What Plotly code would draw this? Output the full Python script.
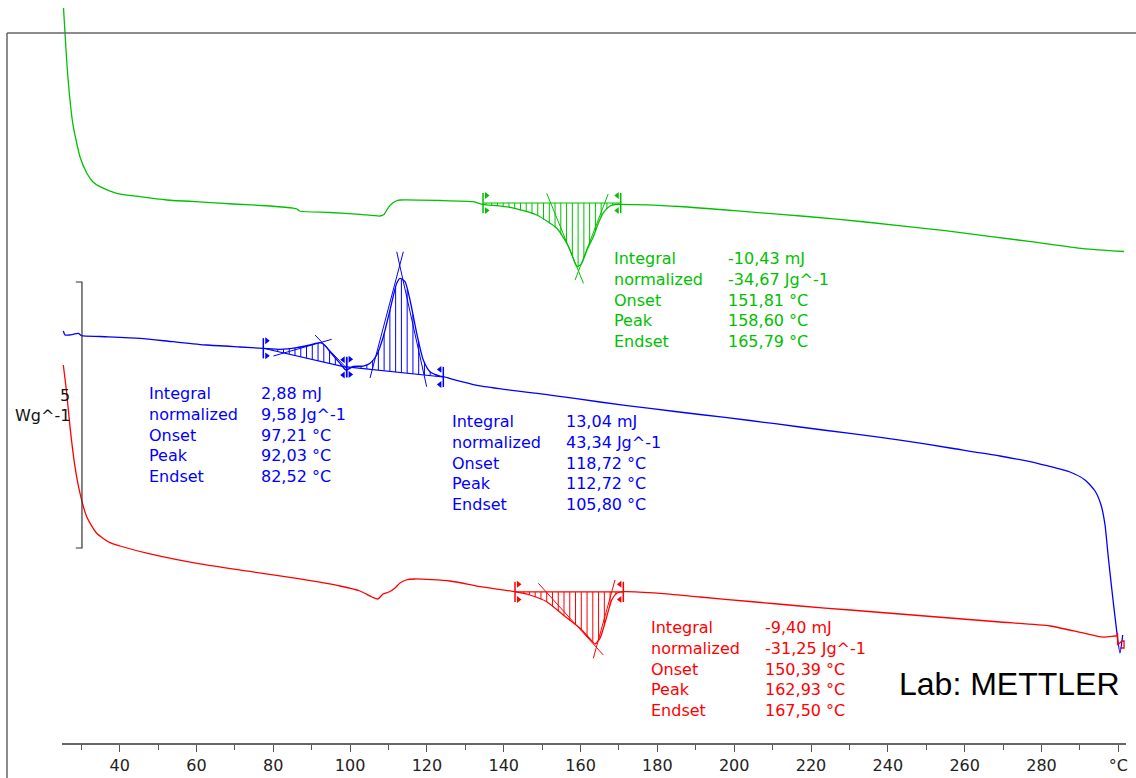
import numpy as np
import plotly.graph_objects as go

# ---------------- data (temperature in °C, heat flow in W/g, curves offset) -------------
green_T = [25.39, 25.78, 26.30, 27.08, 27.86, 28.83, 29.69, 31.43, 33.07, 34.89, 39.24, 45.31,
           52.26, 62.67, 69.52, 79.15, 85.14, 86.18, 86.83, 94.77, 102.58, 107.79, 108.83,
           109.87, 110.92, 111.96, 113.0, 123.41, 132.0, 133.31, 134.61, 141.64, 148.59,
           153.79, 156.40, 157.78, 158.56, 159.16, 160.30, 161.68, 163.32, 164.55, 165.85,
           167.67, 168.97, 170.46, 185.89, 205.42, 218.96, 234.19, 254.89, 277.28, 290.82,
           301.49]
green_HF = [13.816, 13.346, 12.744, 12.086, 11.617, 11.278, 11.015, 10.714, 10.545, 10.457,
            10.333, 10.269, 10.207, 10.164, 10.132, 10.094, 10.056, 10.038, 10.000, 9.972,
            9.938, 9.906, 9.934, 10.056, 10.141, 10.188, 10.207, 10.197, 10.175, 10.150,
            10.126, 10.069, 9.925, 9.675, 9.393, 9.173, 9.017, 8.953, 9.017, 9.267, 9.517,
            9.756, 9.962, 10.094, 10.122, 10.126, 10.085, 9.974, 9.897, 9.793, 9.630, 9.423,
            9.293, 9.239]

blue_T = [25.34, 25.78, 26.82, 27.94, 29.24, 30.13, 34.89, 45.31, 53.90, 62.67, 71.34, 77.41,
          81.76, 86.11, 89.57, 92.17, 93.47, 94.77, 97.38, 98.94, 100.84, 103.44, 105.19,
          106.93, 108.65, 110.39, 112.14, 113.0, 114.30, 115.60, 117.35, 119.06, 120.81,
          123.41, 124.27, 133.83, 152.05, 165.07, 178.09, 191.10, 204.12, 217.14, 230.16,
          243.17, 256.19, 269.21, 279.62, 287.43, 291.33, 293.94, 295.50, 296.54, 297.33,
          298.33, 299.39, 300.43, 301.14]
blue_HF = [7.744, 7.669, 7.669, 7.682, 7.701, 7.656, 7.641, 7.607, 7.543, 7.481, 7.444, 7.419,
           7.400, 7.431, 7.481, 7.524, 7.472, 7.355, 7.137, 7.011, 7.077, 7.086, 7.137, 7.293,
           7.637, 8.139, 8.641, 8.735, 8.671, 8.327, 7.701, 7.199, 6.979, 6.898, 6.885, 6.711,
           6.541, 6.410, 6.288, 6.175, 6.062, 5.940, 5.818, 5.695, 5.545, 5.395, 5.244, 5.094,
           4.944, 4.737, 4.474, 4.098, 3.534, 2.876, 2.218, 1.692, 2.030]

red_T = [25.34, 26.22, 27.08, 28.38, 29.69, 31.43, 34.03, 37.50, 40.10, 47.91, 60.93, 73.95,
         86.96, 97.38, 102.58, 105.71, 107.27, 108.57, 110.13, 111.70, 113.0, 114.56, 116.91,
         126.02, 133.83, 142.94, 146.81, 151.19, 155.51, 159.86, 162.46, 163.77, 165.07,
         166.81, 168.11, 169.41, 171.13, 180.69, 191.10, 204.12, 217.14, 230.16, 243.17,
         256.19, 269.21, 282.23, 290.82, 296.03, 299.15, 299.67]
red_HF = [7.105, 6.579, 5.946, 5.194, 4.694, 4.254, 3.942, 3.765, 3.703, 3.553, 3.365, 3.224,
          3.083, 2.951, 2.857, 2.744, 2.707, 2.801, 2.838, 2.914, 3.008, 3.064, 3.083, 3.045,
          2.938, 2.844, 2.782, 2.656, 2.406, 2.156, 1.955, 1.861, 1.968, 2.374, 2.688, 2.814,
          2.844, 2.814, 2.744, 2.660, 2.575, 2.500, 2.425, 2.350, 2.274, 2.199, 2.068, 1.992,
          2.011, 2.011]
red_end_T = [299.67, 299.80, 299.80, 300.97, 301.49, 301.49, 300.43]
red_end_HF = [2.011, 2.068, 1.842, 1.917, 1.917, 1.786, 1.786]

# integration limits and baselines
green_limits_T = [134.61, 170.46]
green_baseline_HF = [10.15, 10.15]
blue1_limits_T = [77.41, 99.11]
blue1_baseline_HF = [7.42, 7.06]
blue2_limits_T = [99.11, 124.27]
blue2_baseline_HF = [7.07, 6.88]
red_limits_T = [142.94, 171.13]
red_baseline_HF = [2.84, 2.84]

# tangent construction lines (pairs of points)
green_tangents_T = [[151.2, 160.77], [167.2, 158.56]]
green_tangents_HF = [[10.33, 8.64], [10.32, 8.70]]
blue1_tangents_T = [[80.01, 95.22], [90.87, 99.12]]
blue1_tangents_HF = [[7.274, 7.588], [7.669, 7.043]]
blue2_tangents_T = [[105.19, 113.86], [112.14, 119.94]]
blue2_tangents_HF = [[6.861, 9.235], [9.235, 6.697]]
red_tangents_T = [[149.01, 165.93], [168.97, 163.32]]
red_tangents_HF = [[3.002, 1.654], [3.064, 1.592]]

# evaluation texts
result_labels = ["Integral", "normalized", "Onset", "Peak", "Endset"]
green_results = ["-10,43 mJ", "-34,67 Jg^-1", "151,81 °C", "158,60 °C", "165,79 °C"]
blue1_results = ["2,88 mJ", "9,58 Jg^-1", "97,21 °C", "92,03 °C", "82,52 °C"]
blue2_results = ["13,04 mJ", "43,34 Jg^-1", "118,72 °C", "112,72 °C", "105,80 °C"]
red_results = ["-9,40 mJ", "-31,25 Jg^-1", "150,39 °C", "162,93 °C", "167,50 °C"]

# scale bar
scale_bar_value = 5
scale_bar_unit = "Wg^-1"
scale_bar_bottom_HF = 3.665

x_tick_vals = [40, 60, 80, 100, 120, 140, 160, 180, 200, 220, 240, 260, 280, 300]
x_tick_text = ["40", "60", "80", "100", "120", "140", "160", "180", "200", "220", "240",
               "260", "280", "°C"]
x_minor_vals = [30, 50, 70, 90, 110, 130, 150, 170, 190, 210, 230, 250, 270, 290]

# ---------------- figure -------------
GREEN = "#00c000"
BLUE = "#0000ff"
RED = "#ff0000"
FONT = "DejaVu Sans"

fig = go.Figure()


def add_curve(T, HF, color, shape="spline"):
    fig.add_trace(go.Scatter(x=T, y=HF, mode="lines",
                             line=dict(color=color, width=1.3, shape=shape, smoothing=0.6),
                             hoverinfo="skip", showlegend=False))


def add_integration(curve_T, curve_HF, limits, base, tangents_T, tangents_HF, color):
    # baseline
    fig.add_trace(go.Scatter(x=limits, y=base, mode="lines",
                             line=dict(color=color, width=1.1),
                             hoverinfo="skip", showlegend=False))
    # hatching
    ts = np.arange(limits[0] + 0.75, limits[1], 1.5)
    cy = np.interp(ts, curve_T, curve_HF)
    by = np.interp(ts, limits, base)
    hx, hy = [], []
    for t, a, b in zip(ts, cy, by):
        hx += [t, t, None]
        hy += [b, a, None]
    fig.add_trace(go.Scatter(x=hx, y=hy, mode="lines",
                             line=dict(color=color, width=1),
                             hoverinfo="skip", showlegend=False))
    # tangents
    for tx, ty in zip(tangents_T, tangents_HF):
        fig.add_trace(go.Scatter(x=tx, y=ty, mode="lines",
                                 line=dict(color=color, width=1),
                                 hoverinfo="skip", showlegend=False))
    # limit markers
    half = 0.19
    for i, (t, b) in enumerate(zip(limits, base)):
        fig.add_trace(go.Scatter(x=[t, t], y=[b - half, b + half], mode="lines",
                                 line=dict(color=color, width=1.5),
                                 hoverinfo="skip", showlegend=False))
        sym = "triangle-right" if i == 0 else "triangle-left"
        off = 0.9 if i == 0 else -0.9
        fig.add_trace(go.Scatter(x=[t + off, t + off], y=[b - half * 0.75, b + half * 0.75],
                                 mode="markers",
                                 marker=dict(symbol=sym, size=6, color=color),
                                 hoverinfo="skip", showlegend=False))


add_curve(green_T, green_HF, GREEN)
add_curve(blue_T, blue_HF, BLUE)
add_curve(red_T, red_HF, RED)
add_curve(red_end_T, red_end_HF, RED, shape="linear")

add_integration(green_T, green_HF, green_limits_T, green_baseline_HF,
                green_tangents_T, green_tangents_HF, GREEN)
add_integration(blue_T, blue_HF, blue1_limits_T, blue1_baseline_HF,
                blue1_tangents_T, blue1_tangents_HF, BLUE)
add_integration(blue_T, blue_HF, blue2_limits_T, blue2_baseline_HF,
                blue2_tangents_T, blue2_tangents_HF, BLUE)
add_integration(red_T, red_HF, red_limits_T, red_baseline_HF,
                red_tangents_T, red_tangents_HF, RED)

# scale bar
sb_top = scale_bar_bottom_HF + scale_bar_value
fig.add_trace(go.Scatter(x=[28.6, 30.2, 30.2, 28.6],
                         y=[sb_top, sb_top, scale_bar_bottom_HF, scale_bar_bottom_HF],
                         mode="lines", line=dict(color="#333333", width=1.2),
                         hoverinfo="skip", showlegend=False))

annotations = []
annotations.append(dict(x=27.7, y=6.54, xref="x", yref="y", text=str(scale_bar_value),
                        showarrow=False, xanchor="right", yanchor="middle",
                        font=dict(family=FONT, size=16, color="#111111")))
annotations.append(dict(x=27.7, y=6.15, xref="x", yref="y", text=scale_bar_unit,
                        showarrow=False, xanchor="right", yanchor="middle",
                        font=dict(family=FONT, size=16, color="#111111")))


def add_block(x_lab, x_val, y_mid, values, color):
    for x, txt in ((x_lab, result_labels), (x_val, values)):
        annotations.append(dict(x=x, y=y_mid, xref="x", yref="y", text="<br>".join(txt),
                                showarrow=False, xanchor="left", yanchor="middle", align="left",
                                font=dict(family=FONT, size=16, color=color)))


add_block(47.0, 76.4, 5.79, blue1_results, BLUE)
add_block(125.9, 155.6, 5.26, blue2_results, BLUE)
add_block(168.1, 197.8, 8.33, green_results, GREEN)
add_block(177.7, 207.4, 1.39, red_results, RED)

annotations.append(dict(x=300.9, y=1.11, xref="x", yref="y", text="Lab: METTLER",
                        showarrow=False, xanchor="right", yanchor="middle",
                        font=dict(family="Liberation Sans", size=32, color="#000000")))

# frame (decoration)
frame_x = (7 - 62) / 1064
frame_top = (743 - 33) / 743
shapes = [
    dict(type="line", xref="paper", yref="paper", x0=frame_x, x1=frame_x, y0=-0.06, y1=frame_top,
         line=dict(color="#666666", width=1.5)),
    dict(type="line", xref="paper", yref="paper", x0=frame_x, x1=1.02, y0=frame_top, y1=frame_top,
         line=dict(color="#666666", width=1.5)),
]

fig.update_layout(
    width=1136, height=778,
    margin=dict(l=62, r=10, t=0, b=35),
    paper_bgcolor="white", plot_bgcolor="white",
    showlegend=False,
    annotations=annotations,
    shapes=shapes,
    xaxis=dict(range=[25, 302], showgrid=False, zeroline=False,
               showline=True, linecolor="#666666", linewidth=1.5,
               ticks="outside", ticklen=7, tickcolor="#555555", tickwidth=1.2,
               tickvals=x_tick_vals, ticktext=x_tick_text,
               tickfont=dict(family=FONT, size=16, color="#222222"),
               minor=dict(tickvals=x_minor_vals, ticks="outside", ticklen=5,
                          tickcolor="#555555", tickwidth=1.2)),
    yaxis=dict(range=[0, 743 / 53.2], visible=False, showgrid=False, zeroline=False),
)

fig.write_html("out.html",
               config={"displayModeBar": False},
               post_script="document.body.style.margin='0px';"
                           "document.body.style.overflow='hidden';")
